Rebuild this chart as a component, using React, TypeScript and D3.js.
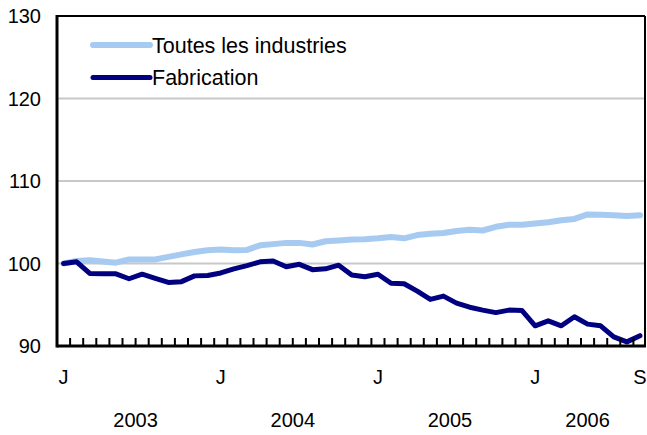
import React from "react";
import * as d3 from "d3";

// monthly index, Jan 2003 .. Sep 2006
const toutes = [
  100.0, 100.3, 100.4, 100.25, 100.1, 100.5, 100.5, 100.5, 100.8, 101.1, 101.4, 101.6,
  101.7, 101.6, 101.65, 102.2, 102.35, 102.5, 102.5, 102.3, 102.7, 102.8, 102.9, 102.95,
  103.05, 103.2, 103.05, 103.45, 103.6, 103.7, 103.95, 104.1, 104.0, 104.45, 104.7, 104.7,
  104.85, 105.0, 105.25, 105.4, 105.95, 105.9, 105.85, 105.75, 105.85,
];
const fabrication = [
  100.0, 100.2, 98.8, 98.75, 98.75, 98.15, 98.7, 98.2, 97.7, 97.8, 98.5, 98.55,
  98.85, 99.35, 99.75, 100.2, 100.3, 99.6, 99.9, 99.25, 99.35, 99.8, 98.6, 98.4,
  98.7, 97.6, 97.55, 96.65, 95.65, 96.05, 95.2, 94.7, 94.35, 94.05, 94.35, 94.3,
  92.45, 93.05, 92.45, 93.55, 92.65, 92.45, 91.1, 90.5, 91.25,
];
const monthLabels = [
  { i: 0, label: "J" },
  { i: 12, label: "J" },
  { i: 24, label: "J" },
  { i: 36, label: "J" },
  { i: 44, label: "S" },
];
const yearLabels = [
  { from: 0, to: 11, label: "2003" },
  { from: 12, to: 23, label: "2004" },
  { from: 24, to: 35, label: "2005" },
  { from: 36, to: 44, label: "2006" },
];
const yTicks = [90, 100, 110, 120, 130];
const series = [
  { name: "Toutes les industries", values: toutes, color: "#a6caf0", width: 6 },
  { name: "Fabrication", values: fabrication, color: "#000080", width: 5 },
];

const font = "'Liberation Sans', Arial, sans-serif";

const App = () => {
  const left = 57;
  const right = 645;
  const top = 16;
  const bottom = 346;

  const idx = d3.range(toutes.length);
  const x = d3.scaleBand<number>().domain(idx).range([left, right + 1.5]);
  const cx = (i: number) => (x(i) as number) + x.bandwidth() / 2;
  const y = d3.scaleLinear().domain([90, 130]).range([bottom, top]);

  const line = d3
    .line<number>()
    .x((d, i) => cx(i))
    .y((d) => y(d));

  return (
    <svg
      width={647}
      height={435}
      style={{ position: "absolute", left: 0, top: 0, background: "#fff" }}
      fontFamily={font}
    >
      {/* gridlines */}
      {yTicks
        .filter((t) => t > 90 && t < 130)
        .map((t) => (
          <line key={t} x1={left} x2={right} y1={y(t)} y2={y(t)} stroke="#c8c8c8" strokeWidth={2} />
        ))}

      {/* y labels */}
      {yTicks.map((t) => (
        <text key={t} x={41} y={y(t)} dy="0.36em" textAnchor="end" fontSize={20} fill="#000">
          {t}
        </text>
      ))}

      {/* series */}
      {series.map((s) => (
        <path
          key={s.name}
          d={line(s.values) || ""}
          fill="none"
          stroke={s.color}
          strokeWidth={s.width}
          strokeLinejoin="round"
          strokeLinecap="round"
        />
      ))}

      {/* frame */}
      <line x1={left} x2={right} y1={top} y2={top} stroke="#000" strokeWidth={2} />
      <line x1={right} x2={right} y1={top} y2={bottom} stroke="#000" strokeWidth={2} />
      <line x1={left} x2={left} y1={top - 1} y2={bottom + 1.5} stroke="#000" strokeWidth={3} />
      <line x1={left} x2={right + 1} y1={bottom} y2={bottom} stroke="#000" strokeWidth={3} />

      {/* ticks between months */}
      {idx.slice(1).map((i) => (
        <line key={i} x1={x(i)} x2={x(i)} y1={bottom} y2={bottom - 8} stroke="#000" strokeWidth={2} />
      ))}

      {/* month labels */}
      {monthLabels.map((m) => (
        <text key={m.i} x={cx(m.i)} y={377} dy="0.36em" textAnchor="middle" fontSize={20} fill="#000">
          {m.label}
        </text>
      ))}

      {/* year labels */}
      {yearLabels.map((yl) => (
        <text
          key={yl.label}
          x={(cx(yl.from) + cx(yl.to)) / 2}
          y={420}
          dy="0.36em"
          textAnchor="middle"
          fontSize={20}
          fill="#000"
        >
          {yl.label}
        </text>
      ))}

      {/* legend */}
      {series.map((s, k) => (
        <g key={s.name} transform={`translate(0, ${45 + k * 32.5})`}>
          <line x1={93} x2={150} y1={0} y2={0} stroke={s.color} strokeWidth={s.width} strokeLinecap="round" />
          <text x={152} y={0} dy="0.36em" fontSize={21.5} fill="#000">
            {s.name}
          </text>
        </g>
      ))}
    </svg>
  );
};

export default App;
